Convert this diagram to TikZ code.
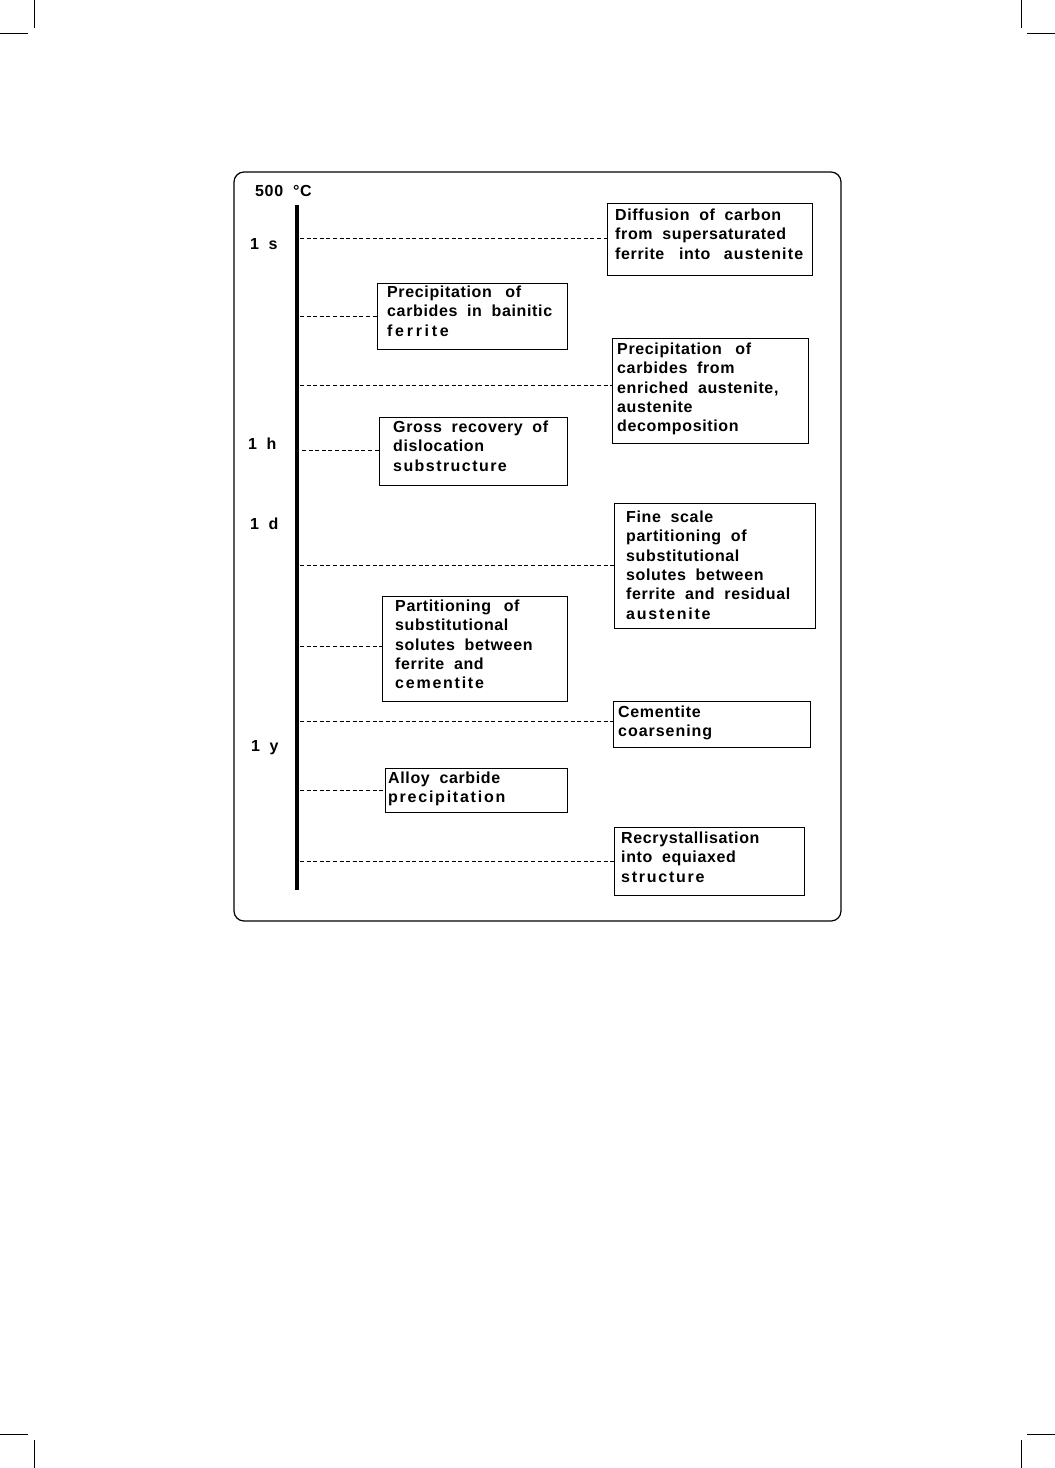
\documentclass[tikz,border=0pt]{standalone}
\usepackage{fontspec}
\setmainfont{Liberation Sans}[LetterSpace=4, WordSpace=1.9]
\newcommand\spc[2][14]{{\addfontfeature{LetterSpace=#1}#2}}
\newcommand\gap[1][4pt]{\hspace{#1}}
\begin{document}
\begin{tikzpicture}[x=1pt,y=-1pt,
  frame/.style={draw, line width=1.2pt, rounded corners=10pt},
  boxframe/.style={draw, line width=1.1pt, anchor=north west, inner sep=0pt},
  boxtext/.style={anchor=north west, inner sep=0pt, align=left,
    font=\fontsize{16}{19.4}\selectfont\bfseries},
  lab/.style={anchor=base west, inner sep=0pt, font=\fontsize{16}{19.4}\selectfont\bfseries},
  conn/.style={line width=0.9pt, dash pattern=on 4pt off 2.6pt},
  axis/.style={line width=4pt},
  crop/.style={line width=1pt}]
\useasboundingbox (0,0) rectangle (1055,1468);
% crop marks
\draw[crop] (34,0) -- (34,28); \draw[crop] (0,33) -- (28,33);
\draw[crop] (1021,0) -- (1021,28); \draw[crop] (1027,33) -- (1055,33);
\draw[crop] (0,1434) -- (28,1434); \draw[crop] (34,1440) -- (34,1468);
\draw[crop] (1027,1434) -- (1055,1434); \draw[crop] (1021,1440) -- (1021,1468);
% outer frame
\draw[frame] (234,172) rectangle (841,921);
% axis
\coordinate (top) at (297,205);
\coordinate (bot) at (297,890);
\draw[axis] (top) -- (bot);
% labels
\node[lab] (l500) at (255,196.5) {500\hspace{10pt}°C};
\node[lab] (ls) at (250,249) {1 s};
\node[lab] (lh) at (248,449.5) {1 h};
\node[lab] (ld) at (250,529) {1 d};
\node[lab] (ly) at (251,751) {1 y};
% boxes
\node[boxframe, minimum width=205pt, minimum height=72pt] (b1) at (607,203) {};
\node[boxtext] (t1) at (615,208.5) {Diffusion of carbon\\from supersaturated\\ferrite\gap[5pt] into\gap[4pt] \spc[7]{austenite}};
\node[boxframe, minimum width=190pt, minimum height=66pt] (b2) at (377,283) {};
\node[boxtext] (t2) at (387,285.5) {Precipitation\gap{} of\\carbides in bainitic\\\spc[17]{ferrite}};
\node[boxframe, minimum width=196pt, minimum height=105pt] (b3) at (612,338) {};
\node[boxtext] (t3) at (617,342.5) {Precipitation\gap{} of\\carbides from\\enriched austenite,\\austenite\\decomposition};
\node[boxframe, minimum width=188pt, minimum height=68pt] (b4) at (379,417) {};
\node[boxtext] (t4) at (393,420.5) {Gross recovery of\\dislocation\\\spc[9]{substructure}};
\node[boxframe, minimum width=201pt, minimum height=125pt] (b5) at (614,503) {};
\node[boxtext] (t5) at (626,510.5) {Fine scale\\partitioning of\\substitutional\\solutes between\\ferrite and residual\\\spc[11]{austenite}};
\node[boxframe, minimum width=185pt, minimum height=105pt] (b6) at (382,596) {};
\node[boxtext] (t6) at (395,599.5) {Partitioning\gap[3pt] of\\substitutional\\solutes between\\ferrite and\\\spc[11]{cementite}};
\node[boxframe, minimum width=197pt, minimum height=46pt] (b7) at (613,701) {};
\node[boxtext] (t7) at (618,705.5) {Cementite\\\spc[6]{coarsening}};
\node[boxframe, minimum width=182pt, minimum height=44pt] (b8) at (385,768) {};
\node[boxtext] (t8) at (388,771.5) {Alloy carbide\\\spc[11]{precipitation}};
\node[boxframe, minimum width=190pt, minimum height=68pt] (b9) at (614,827) {};
\node[boxtext] (t9) at (621,831.5) {Recrystallisation\\into equiaxed\\\spc[11]{structure}};
% connectors
\coordinate (a1) at (300,238);
\coordinate (a2) at (300,316);
\coordinate (a3) at (300,385);
\coordinate (a4) at (302,450);
\coordinate (a5) at (300,565);
\coordinate (a6) at (300,646);
\coordinate (a7) at (300,721);
\coordinate (a8) at (300,790);
\coordinate (a9) at (300,861);
\draw[conn] (a1) -- (a1 -| b1.west);
\draw[conn] (a2) -- (a2 -| b2.west);
\draw[conn] (a3) -- (a3 -| b3.west);
\draw[conn] (a4) -- (a4 -| b4.west);
\draw[conn] (a5) -- (a5 -| b5.west);
\draw[conn] (a6) -- (a6 -| b6.west);
\draw[conn] (a7) -- (a7 -| b7.west);
\draw[conn] (a8) -- (a8 -| b8.west);
\draw[conn] (a9) -- (a9 -| b9.west);
\end{tikzpicture}
\end{document}
